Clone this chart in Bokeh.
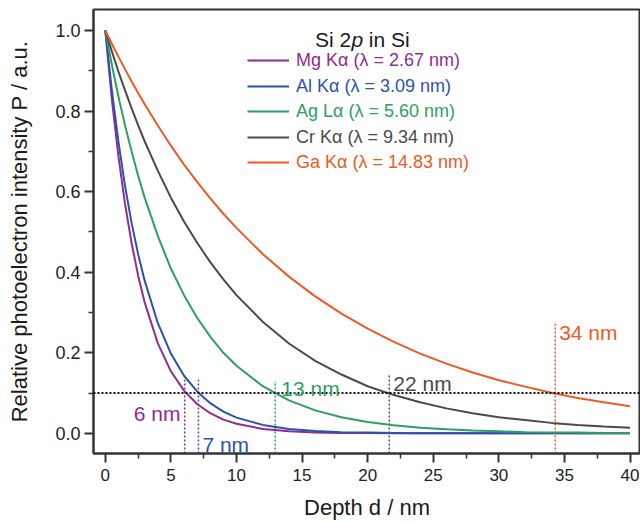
from bokeh.plotting import figure
from bokeh.models import (Range1d, FixedTicker, Span, Label, Legend, LegendItem,
                          NumeralTickFormatter)
from bokeh.embed import file_html
from bokeh.resources import INLINE

# ---------------- data ----------------
depth_nm = [0, 0.5, 1, 1.5, 2, 2.5, 3, 4, 5, 6, 7, 8, 9, 10, 12, 14, 16, 18,
            20, 22, 24, 26, 28, 30, 32, 34, 36, 38, 40]

p_mg = [1.000, 0.829, 0.688, 0.570, 0.473, 0.392, 0.325, 0.224, 0.154, 0.106,
        0.073, 0.050, 0.034, 0.024, 0.011, 0.005, 0.002, 0.001, 0.001, 0.000,
        0.000, 0.000, 0.000, 0.000, 0.000, 0.000, 0.000, 0.000, 0.000]
p_al = [1.000, 0.851, 0.724, 0.615, 0.523, 0.445, 0.379, 0.274, 0.198, 0.143,
        0.104, 0.075, 0.054, 0.039, 0.021, 0.011, 0.006, 0.003, 0.002, 0.001,
        0.000, 0.000, 0.000, 0.000, 0.000, 0.000, 0.000, 0.000, 0.000]
p_ag = [1.000, 0.915, 0.836, 0.765, 0.700, 0.640, 0.585, 0.490, 0.409, 0.343,
        0.287, 0.240, 0.200, 0.168, 0.117, 0.082, 0.057, 0.040, 0.028, 0.020,
        0.014, 0.010, 0.007, 0.005, 0.003, 0.002, 0.002, 0.001, 0.001]
p_cr = [1.000, 0.948, 0.898, 0.852, 0.807, 0.765, 0.725, 0.652, 0.585, 0.526,
        0.473, 0.425, 0.382, 0.343, 0.277, 0.223, 0.180, 0.146, 0.117, 0.095,
        0.077, 0.062, 0.050, 0.040, 0.033, 0.026, 0.021, 0.017, 0.014]
p_ga = [1.000, 0.967, 0.935, 0.904, 0.874, 0.845, 0.817, 0.764, 0.714, 0.667,
        0.624, 0.583, 0.545, 0.510, 0.445, 0.389, 0.340, 0.297, 0.260, 0.227,
        0.198, 0.173, 0.151, 0.132, 0.116, 0.101, 0.088, 0.077, 0.067]

series_values = [p_mg, p_al, p_ag, p_cr, p_ga]
series_names = ["Mg K\u03b1 (\u03bb = 2.67 nm)", "Al K\u03b1 (\u03bb = 3.09 nm)",
                "Ag L\u03b1 (\u03bb = 5.60 nm)", "Cr K\u03b1 (\u03bb = 9.34 nm)",
                "Ga K\u03b1 (\u03bb = 14.83 nm)"]
series_colors = ["#922b92", "#2a52b0", "#2e9f62", "#4a4a4a", "#ec5a26"]

threshold = 0.1
cut_depth = [6.05, 7.1, 12.95, 21.65, 34.3]
cut_top = [0.133, 0.133, 0.130, 0.147, 0.272]
cut_text = ["6 nm", "7 nm", "13 nm", "22 nm", "34 nm"]
cut_text_x = [5.73, 7.40, 13.42, 21.96, 34.60]
cut_text_y = [0.049, -0.027, 0.112, 0.124, 0.250]
cut_align = ["right", "left", "left", "left", "left"]

x_ticks = [0, 5, 10, 15, 20, 25, 30, 35, 40]
x_minor = [2.5, 7.5, 12.5, 17.5, 22.5, 27.5, 32.5, 37.5]
y_ticks = [0.0, 0.2, 0.4, 0.6, 0.8, 1.0]
y_minor = [0.1, 0.3, 0.5, 0.7, 0.9]

FONT = "Liberation Sans"
AXC = "#333333"

# ---------------- figure ----------------
p = figure(width=640, height=523, x_range=Range1d(-0.9, 40.8),
           y_range=Range1d(-0.05, 1.052), output_backend="svg",
           toolbar_location=None, min_border_left=93, min_border_right=0,
           min_border_top=9, min_border_bottom=70)
p.xgrid.visible = False
p.ygrid.visible = False
p.outline_line_color = AXC
p.outline_line_width = 2
p.background_fill_color = "white"
p.border_fill_color = "white"

for ax in (p.xaxis[0], p.yaxis[0]):
    ax.axis_line_color = AXC
    ax.axis_line_width = 2
    ax.major_tick_line_color = AXC
    ax.minor_tick_line_color = AXC
    ax.major_tick_line_width = 2
    ax.minor_tick_line_width = 1.5
    ax.major_tick_in = 0
    ax.major_tick_out = 9
    ax.minor_tick_in = 0
    ax.minor_tick_out = 5
    ax.major_label_text_font = FONT
    ax.major_label_text_color = "#222222"
    ax.axis_label_text_font = FONT
    ax.axis_label_text_font_size = "22px"
    ax.axis_label_text_font_style = "normal"
    ax.axis_label_text_color = "#1a1a1a"

p.xaxis.ticker = FixedTicker(ticks=x_ticks, minor_ticks=x_minor)
p.yaxis.ticker = FixedTicker(ticks=y_ticks, minor_ticks=y_minor)
p.yaxis.formatter = NumeralTickFormatter(format="0.0")
p.xaxis.major_label_text_font_size = "17px"
p.yaxis.major_label_text_font_size = "18px"
p.xaxis.major_label_standoff = 6
p.yaxis.major_label_standoff = 4
p.xaxis.axis_label = "Depth d / nm"
p.yaxis.axis_label = "Relative photoelectron intensity P / a.u."
p.xaxis.axis_label_standoff = 11
p.yaxis.axis_label_standoff = 20

# threshold line
p.add_layout(Span(location=threshold, dimension="width", line_color="#111111",
                  line_dash="2 2", line_width=2))

# vertical markers
p.segment(x0=cut_depth, y0=[-0.05] * len(cut_depth), x1=cut_depth, y1=cut_top,
          line_color=series_colors, line_dash="2 2", line_width=1.5)

# curves + legends
renderers = []
for vals, col in zip(series_values, series_colors):
    renderers.append(p.line(depth_nm, vals, line_color=col, line_width=2))

legend_rows_y = [382, 356, 331, 305, 280]
for r, name, col, vy in zip(renderers, series_names, series_colors, legend_rows_y):
    leg = Legend(items=[LegendItem(label=name, renderers=[r])], location=(154, vy),
                 padding=0, margin=0, spacing=0, border_line_alpha=0,
                 background_fill_alpha=0, glyph_width=42, glyph_height=22,
                 label_height=22, label_standoff=7, label_text_font=FONT,
                 label_text_font_size="18px", label_text_color=col)
    p.add_layout(leg)

# annotations at the cut depths
for t, tx, ty, col, al in zip(cut_text, cut_text_x, cut_text_y, series_colors, cut_align):
    p.add_layout(Label(x=tx, y=ty, text=t, text_color=col, text_font=FONT,
                       text_font_size="21px", text_align=al,
                       text_baseline="alphabetic"))

# legend title: Si 2p in Si
for t, tx, st in [("Si 2", 15.98, "normal"), ("p", 18.76, "italic"), ("in Si", 20.09, "normal")]:
    p.add_layout(Label(x=tx, y=0.977, text=t, text_color="#1a1a1a", text_font=FONT,
                       text_font_size="21px", text_font_style=st,
                       text_baseline="alphabetic"))

open("out.html", "w").write(file_html(p, INLINE))
